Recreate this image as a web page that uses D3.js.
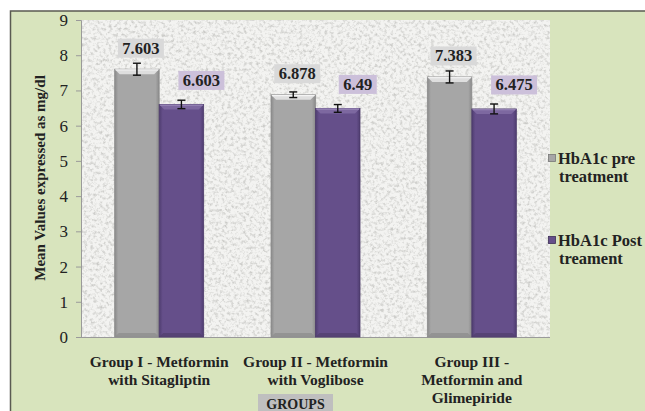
<!DOCTYPE html>
<html>
<head>
<meta charset="utf-8">
<script src="https://cdn.jsdelivr.net/npm/d3@7/dist/d3.min.js"></script>
<style>
  html, body { margin: 0; padding: 0; background: #ffffff; }
  svg { display: block; }
  svg text { font-family: "Liberation Serif", "DejaVu Serif", "Times New Roman", serif; }
</style>
</head>
<body>
<script>
// HbA1c before and after treatment, per treatment group
const groups = [
  ["Group I - Metformin", "with Sitagliptin"],
  ["Group II - Metformin", "with Voglibose"],
  ["Group III -", "Metformin and", "Glimepiride"]
];
const seriesNames = [["HbA1c pre", "treatment"], ["HbA1c Post", "treament"]];
const preValues = [7.603, 6.878, 7.383];
const postValues = [6.603, 6.49, 6.475];
const preErrors = [0.17, 0.08, 0.17];
const postErrors = [0.12, 0.11, 0.14];
const yTicks = [0, 1, 2, 3, 4, 5, 6, 7, 8, 9];

const W = 645, H = 411;
const plot = { left: 81, right: 550, top: 20, bottom: 337 };
const barWidth = 44.5;

const svg = d3.select("body").append("svg").attr("width", W).attr("height", H);
const defs = svg.append("defs");

// speckled stone texture for the plot area
const f = defs.append("filter").attr("id", "granite")
  .attr("x", 0).attr("y", 0).attr("width", "100%").attr("height", "100%");
f.append("feTurbulence").attr("type", "fractalNoise").attr("baseFrequency", 0.32)
  .attr("numOctaves", 4).attr("seed", 7).attr("result", "noise");
f.append("feColorMatrix").attr("in", "noise").attr("type", "matrix")
  .attr("values", "0 0 0 0 0.6  0 0 0 0 0.6  0 0 0 0 0.58  -2.6 0 0 0 1.42");

// bar shading gradients
function barGradient(id, base, dark) {
  const g = defs.append("linearGradient").attr("id", id)
    .attr("x1", 0).attr("x2", 1).attr("y1", 0).attr("y2", 0);
  g.append("stop").attr("offset", "0%").attr("stop-color", dark);
  g.append("stop").attr("offset", "8%").attr("stop-color", base);
  g.append("stop").attr("offset", "92%").attr("stop-color", base);
  g.append("stop").attr("offset", "100%").attr("stop-color", dark);
}
barGradient("gPre", "#a6a6a6", "#8a8a8a");
barGradient("gPost", "#654f8a", "#4f3d70");

const colors = {
  pre: { fill: "url(#gPre)", top: "#dedede", topEdge: "#f4f4f4", swatch: "#a6a6a6", label: "#d9d9d9" },
  post: { fill: "url(#gPost)", top: "#7d68a0", topEdge: "#9a88b8", swatch: "#654f8a", label: "#ccc0da" }
};

// chart background and frame
svg.append("rect").attr("x", 10).attr("y", 11).attr("width", W - 10).attr("height", H - 11)
  .attr("fill", "#d8e4bd");
svg.append("path").attr("d", `M10.5,${H} V11 H${W}`).attr("fill", "none")
  .attr("stroke", "#5a5a52").attr("stroke-width", 1.5);

// plot area
svg.append("rect").attr("x", plot.left).attr("y", plot.top)
  .attr("width", plot.right - plot.left).attr("height", plot.bottom - plot.top)
  .attr("fill", "#f3f3f1");
svg.append("rect").attr("x", plot.left).attr("y", plot.top)
  .attr("width", plot.right - plot.left).attr("height", plot.bottom - plot.top)
  .attr("filter", "url(#granite)");

const y = d3.scaleLinear().domain([0, 9]).range([plot.bottom, plot.top]);
const x0 = d3.scaleBand().domain(d3.range(groups.length)).range([plot.left, plot.right]).paddingInner(0).paddingOuter(0);
const keys = ["pre", "post"];
const x1 = d3.scaleBand().domain(keys).range([0, x0.bandwidth()]).paddingInner(0)
  .paddingOuter((x0.bandwidth() - 2 * barWidth) / 2 / barWidth);

// y axis
const yAxis = d3.axisLeft(y).tickValues(yTicks).tickSize(5).tickPadding(8).tickFormat(d3.format("d"));
const ag = svg.append("g").attr("transform", `translate(${plot.left},0)`).call(yAxis);
ag.attr("font-family", null);
ag.select(".domain").attr("stroke", "#9a9a9a");
ag.selectAll(".tick line").attr("stroke", "#9a9a9a");
ag.selectAll(".tick text").attr("font-size", 17).attr("fill", "#222");

// bottom axis line
svg.append("line").attr("x1", plot.left).attr("x2", plot.right)
  .attr("y1", plot.bottom + 0.5).attr("y2", plot.bottom + 0.5).attr("stroke", "#9a9a9a");

const rows = groups.map((g, i) => [
  { key: "pre", i, v: preValues[i], e: preErrors[i] },
  { key: "post", i, v: postValues[i], e: postErrors[i] }
]).flat();

const bx = d => x0(d.i) + x1(d.key);
const bw = x1.bandwidth();

const bars = svg.append("g").selectAll("g").data(rows).join("g");
bars.append("rect")
  .attr("x", d => bx(d)).attr("y", d => y(d.v))
  .attr("width", bw).attr("height", d => y(0) - y(d.v))
  .attr("fill", d => colors[d.key].fill)
  .attr("stroke", d => d.key === "pre" ? "#8c8c8c" : "#4c3a6a").attr("stroke-width", 0.8);
// bevelled top
bars.append("path")
  .attr("d", d => {
    const l = bx(d), r = l + bw, t = y(d.v);
    return `M${l},${t} H${r} L${r - 5},${t + 5} H${l + 5} Z`;
  })
  .attr("fill", d => colors[d.key].top);
bars.append("line")
  .attr("x1", d => bx(d) + 1).attr("x2", d => bx(d) + bw - 1)
  .attr("y1", d => y(d.v) + 0.8).attr("y2", d => y(d.v) + 0.8)
  .attr("stroke", d => colors[d.key].topEdge).attr("stroke-width", 1.2);
// darker base edge
bars.append("path")
  .attr("d", d => {
    const l = bx(d), r = l + bw, b = y(0);
    return `M${l},${b} H${r} L${r - 4},${b - 4} H${l + 4} Z`;
  })
  .attr("fill", d => d.key === "pre" ? "#8f8f8f" : "#52406f").attr("opacity", 0.8);

// error bars
const eg = svg.append("g").attr("stroke", "#111").attr("stroke-width", 1.4);
rows.forEach(d => {
  const cx = bx(d) + bw / 2;
  const t = y(d.v + d.e), b = y(d.v - d.e);
  eg.append("line").attr("x1", cx).attr("x2", cx).attr("y1", t).attr("y2", b);
  eg.append("line").attr("x1", cx - 4).attr("x2", cx + 4).attr("y1", t).attr("y2", t);
  eg.append("line").attr("x1", cx - 4).attr("x2", cx + 4).attr("y1", b).attr("y2", b);
});

// value labels in shaded boxes
const labelShift = { pre: { dx: 4, dy: -21 }, post: { dx: 20, dy: -24 } };
const lg = svg.append("g");
rows.forEach(d => {
  const cx = bx(d) + bw / 2 + labelShift[d.key].dx;
  const cy = y(d.v) + labelShift[d.key].dy;
  const txt = String(d.v);
  const tw = txt.length * 8 + 6;
  lg.append("rect").attr("x", cx - tw / 2).attr("y", cy - 9.5)
    .attr("width", tw).attr("height", 19).attr("fill", colors[d.key].label);
  lg.append("text").attr("x", cx).attr("y", cy + 5.5).attr("text-anchor", "middle")
    .attr("font-weight", "bold").attr("font-size", 16.5)
    .attr("fill", "#222").text(txt);
});

// category labels
groups.forEach((lines, i) => {
  const cx = x0(i) + x0.bandwidth() / 2;
  const t = svg.append("text").attr("text-anchor", "middle")
    .attr("font-weight", "bold").attr("font-size", 15.5).attr("fill", "#222");
  lines.forEach((s, k) => t.append("tspan").attr("x", cx).attr("y", 367 + k * 18.2).text(s));
});

// x axis title
svg.append("rect").attr("x", 258).attr("y", 394).attr("width", 75).attr("height", 20).attr("fill", "#bfbfbf");
svg.append("text").attr("x", 295.5).attr("y", 409).attr("text-anchor", "middle")
  .attr("font-weight", "bold").attr("font-size", 14).attr("fill", "#222")
  .text("GROUPS");

// y axis title
svg.append("text").attr("transform", "translate(45,178) rotate(-90)").attr("text-anchor", "middle")
  .attr("font-weight", "bold").attr("font-size", 15).attr("fill", "#222")
  .text("Mean Values expressed as mg/dl");

// legend
const legendY = [164, 246];
keys.forEach((k, i) => {
  const gy = legendY[i];
  svg.append("rect").attr("x", 548.5).attr("y", gy - 9.5).attr("width", 7).attr("height", 7)
    .attr("fill", colors[k].swatch).attr("stroke", k === "pre" ? "#777" : "#3e2f58").attr("stroke-width", 0.8);
  const t = svg.append("text").attr("font-weight", "bold")
    .attr("font-size", 16.5).attr("fill", "#222");
  seriesNames[i].forEach((s, j) => t.append("tspan").attr("x", j === 0 ? 558 : 559).attr("y", gy + j * 18).text(s));
});
</script>
</body>
</html>
